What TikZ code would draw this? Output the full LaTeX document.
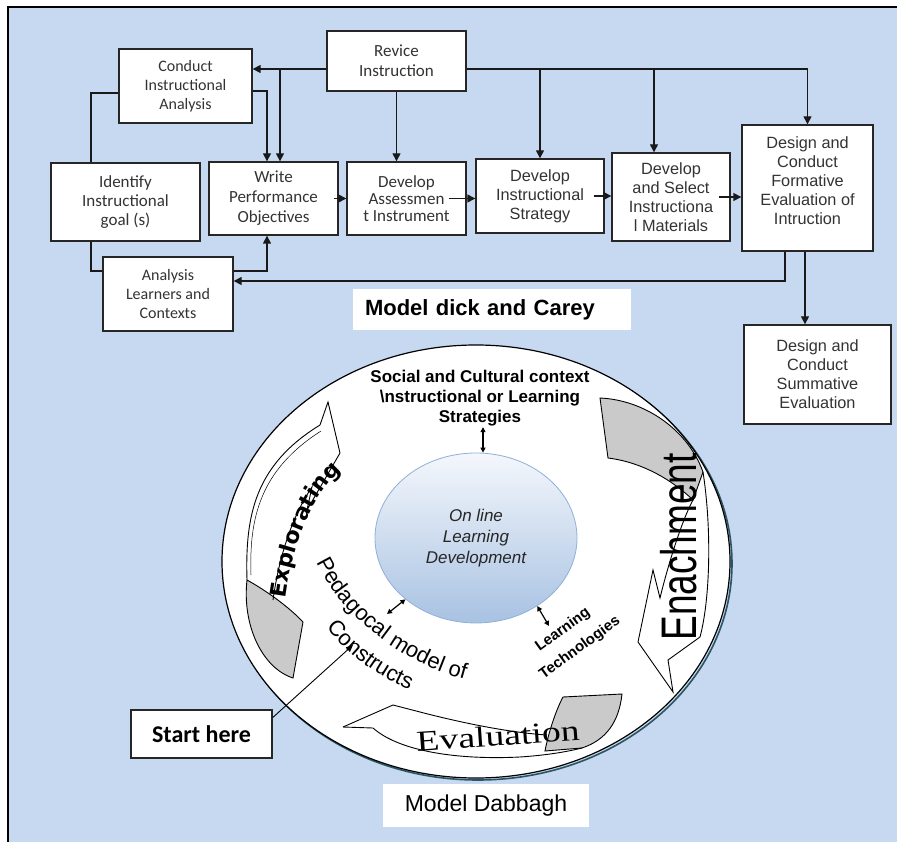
\documentclass[tikz,border=0pt]{standalone}
\usepackage{fontspec}
\usepackage{graphicx}
\usetikzlibrary{shapes.geometric,arrows.meta,decorations.text,calc}
\newfontfamily\arialf{Liberation Sans}
\newfontfamily\calf{Carlito}
\newfontfamily\timesf{Liberation Serif}
\newfontfamily\dejaf{DejaVu Sans}
\newcommand{\fsz}[2]{\fontsize{#1}{#2}\selectfont}
\definecolor{bgblue}{HTML}{C6D9F1}
\definecolor{tgray}{HTML}{333333}
\definecolor{ribbon}{HTML}{CACACA}
\definecolor{inbord}{HTML}{8FB0D8}
\definecolor{intop}{HTML}{F4F7FC}
\definecolor{inbot}{HTML}{A8C2E2}
\definecolor{shadowc}{HTML}{2B5563}
\begin{document}
\begin{tikzpicture}[x=1pt,y=-1pt,
  box/.style={draw=black!85, line width=1.4pt, fill=white, inner sep=1pt, align=center, text=tgray},
  cbox/.style={box, font=\calf\fsz{16}{19}},
  abox/.style={box, font=\arialf\fsz{16.3}{19}},
  arr/.style={line width=1.4pt, draw=black!90, -{Triangle[length=8pt,width=8pt]}},
  conn/.style={line width=1.4pt, draw=black!90},
  darr/.style={line width=1.2pt, {Triangle[length=5pt,width=5pt]}-{Triangle[length=5pt,width=5pt]}},
  lbl/.style={fill=white, inner sep=0pt, align=center, text=black},
  rib/.style={fill=ribbon, draw=black, line width=0.9pt},
  ribl/.style={draw=black, line width=0.9pt}
]
\useasboundingbox (0,0) rectangle (897,842);
\fill[bgblue] (8,7) rectangle (900,845);
\draw[line width=1.8pt] (900,7) -- (8,7) -- (8,845);

% ---- Dick and Carey boxes ----
\node[cbox, minimum width=133pt, minimum height=74pt] (conduct) at (185.5,86) {Conduct\\Instructional\\Analysis};
\node[cbox, font=\calf\fsz{17}{20}, minimum width=139pt, minimum height=60pt] (revice) at (396.5,61) {Revice\\Instruction};
\node[cbox, font=\calf\fsz{17}{19}, minimum width=149pt, minimum height=78pt] (identify) at (125.5,202) {Identify\\Instructional\\goal (s)};
\node[cbox, font=\calf\fsz{17}{20}, minimum width=129pt, minimum height=73pt] (write) at (273.5,198.5) {Write\\Performance\\Objectives};
\node[cbox, font=\calf\fsz{17}{17}, minimum width=119pt, minimum height=73pt] (assess) at (406.5,198.5) {Develop\\Assessmen\\t Instrument};
\node[abox, minimum width=128pt, minimum height=74pt] (strategy) at (540,196) {Develop\\Instructional\\Strategy};
\node[abox, minimum width=118pt, minimum height=88pt] (materials) at (671,197) {Develop\\and Select\\Instructiona\\l Materials};
\node[abox, minimum width=131pt, minimum height=126pt] (formative) at (807.5,188) {Design and\\Conduct\\Formative\\Evaluation of\\Intruction\\[-4pt]~};
\node[cbox, minimum width=130pt, minimum height=74pt] (analysis) at (168,294) {Analysis\\Learners and\\Contexts};
\node[abox, minimum width=147pt, minimum height=99pt] (summative) at (817.5,374.5) {Design and\\Conduct\\Summative\\Evaluation};
\node[lbl, text width=254pt, inner xsep=12pt, align=left, minimum height=41pt, font=\arialf\bfseries\fsz{22}{26}] (dick) at (492,309.5) {Model dick and Carey};

% ---- connectors ----
\coordinate (rvW) at ([yshift=-8pt]revice.west);
\coordinate (rvE) at ([yshift=-8pt]revice.east);
\coordinate (wN1) at ([xshift=-6.5pt]write.north);
\coordinate (wN2) at ([xshift=6.5pt]write.north);
\coordinate (wS1) at ([xshift=-6.5pt]write.south);
\coordinate (cE) at ([yshift=-5pt]conduct.east);
\coordinate (cW) at ([yshift=-7pt]conduct.west);
\coordinate (iN) at ([xshift=-34.5pt]identify.north);
\coordinate (iS) at ([xshift=-34.5pt]identify.south);
\coordinate (aW) at ([yshift=23pt]analysis.west);
\coordinate (aE) at ([yshift=23pt]analysis.east);
\coordinate (aE2) at ([yshift=13pt]analysis.east);
\coordinate (mN) at ([xshift=-17pt]materials.north);
\coordinate (fS1) at ([xshift=-22.5pt]formative.south);
\coordinate (fS2) at ([xshift=-2.5pt]formative.south);

\draw[arr] (rvW) -- (rvW -| conduct.east);
\draw[arr] (rvW -| wN2) -- (wN2);
\draw[arr] (cE) -| (wN1);
\draw[arr] (revice.south) -- (revice.south |- assess.north);
\draw[arr] (rvE) -| (formative.north);
\draw[arr] (strategy.north |- rvE) -- (strategy.north);
\draw[arr] (mN |- rvE) -- (mN);
\draw[conn] (iN) |- (cW);
\draw[conn] (iS) |- (aW);
\draw[arr] (aE) -| (wS1);
\draw[arr] (fS1) |- (aE2);
\draw[arr] (fS2) -- (fS2 |- summative.north);
\draw[arr] ([xshift=-5pt]write.east) -- (assess.west |- write.east);
\draw[arr] ([xshift=-18pt]assess.east) -- (strategy.west |- assess.east);
\draw[arr] ([xshift=-11pt]strategy.east) -- (materials.west |- strategy.east);
\draw[arr] ([xshift=-12pt]materials.east) -- (formative.west |- materials.east);

% ---- Dabbagh model ----
\draw[shadowc, line width=1.6pt] (478,563.5) ellipse [x radius=254, y radius=216.5];
\node[ellipse, draw=black, line width=1.2pt, fill=white, minimum width=508pt, minimum height=433pt, inner sep=0pt] (outer) at (476,561.5) {};

% left ribbon (Explorating)
\filldraw[rib] (247,580) .. controls (242,625) and (262,668) .. (293,678) -- (303,622) .. controls (288,606) and (265,590) .. cycle;
\draw[ribl] (247,580) .. controls (245,515) and (255,465) .. (320,425) -- (328,402) -- (340,453) -- (307,510) -- (312,487) .. controls (295,512) and (280,550) .. (273,600);
\draw[ribl, line width=0.5pt] (251,575) .. controls (249,518) and (260,470) .. (321,431);
% right ribbon (Enachment)
\filldraw[rib] (600,398) .. controls (645,400) and (688,430) .. (703,472) -- (693,500) .. controls (670,478) and (640,462) .. (608,458) -- cycle;
\draw[ribl] (703,472) .. controls (712,530) and (710,600) .. (700,637) -- (668,660) -- (673,692) -- (638,642) -- (653,570) -- (660,598) .. controls (668,565) and (682,520) .. (693,500);
% bottom ribbon (Evaluation)
\filldraw[rib] (563,697) -- (622,694) .. controls (619,722) and (606,740) .. (582,748) -- (545,751) .. controls (548,735) and (555,712) .. cycle;
\draw[ribl] (343,727) -- (393,705) -- (420,712) .. controls (470,725) and (515,733) .. (547,735);
\draw[ribl] (343,727) -- (373,728) .. controls (400,752) and (460,760) .. (520,757) .. controls (550,755) and (570,751) .. (582,748);

\node[ellipse, draw=inbord, line width=0.8pt, top color=intop, bottom color=inbot, minimum width=202pt, minimum height=170pt, inner sep=0pt, align=center, font=\arialf\itshape\fsz{17}{21}, text=black!85] (core) at (476,538) {On line\\Learning\\Development};

\node[align=center, font=\arialf\bfseries\fsz{17}{20}, inner sep=1pt] (social) at (480,398) {Social and Cultural context\\\textbackslash nstructional or Learning\\Strategies};
\coordinate (daTop) at ([xshift=3pt]social.south);
\draw[darr] (daTop) -- (daTop |- core.north);

\coordinate (dp1) at (387,614);
\draw[darr] (dp1) -- (core.221);
\coordinate (dl2) at (549,626);
\draw[darr] (core.312) -- (dl2);

\path[decorate, decoration={text along path, text align=center, text={|\dejaf\bfseries\fsz{22}{22}|Explorating}}] (285,600) .. controls (292,547) and (309,498) .. (343,469);
\path[decorate, decoration={text along path, text align=center, text={|\arialf\fsz{22}{22}|Pedagocal model of}}] (310,548) .. controls (333,610) and (400,667) .. (480,683);
\path[decorate, decoration={text along path, text align=center, text={|\arialf\fsz{22}{22}|Constructs}}] (322,622) .. controls (345,652) and (375,677) .. (416,692);

\node[rotate=90, font=\arialf\fsz{37}{37}, inner sep=0pt] (ena) at (679,547) {\scalebox{1}[1.35]{Enachment}};
\node[rotate=4, font=\timesf\fsz{29}{29}, inner sep=0pt] (evalt) at (498,736) {\scalebox{1.3}[1]{Evaluation}};
\node[rotate=36, font=\arialf\bfseries\fsz{15}{15}, inner sep=0pt] (lt1) at (563,630) {Learning};
\node[rotate=36, font=\arialf\bfseries\fsz{15}{15}, inner sep=0pt] (lt2) at (580,648) {Technologies};

\node[box, font=\calf\bfseries\fsz{24}{28}, text=black, minimum width=141pt, minimum height=48pt] (start) at (201.5,734) {Start here};
\coordinate (stTip) at (353,645);
\draw[line width=0.9pt, -{Triangle[length=7pt,width=6pt]}] (start.13) -- (stTip);

\node[lbl, minimum width=206pt, minimum height=43pt, font=\arialf\fsz{23}{26}] (dabbagh) at (486,805.5) {Model Dabbagh};
\end{tikzpicture}
\end{document}
